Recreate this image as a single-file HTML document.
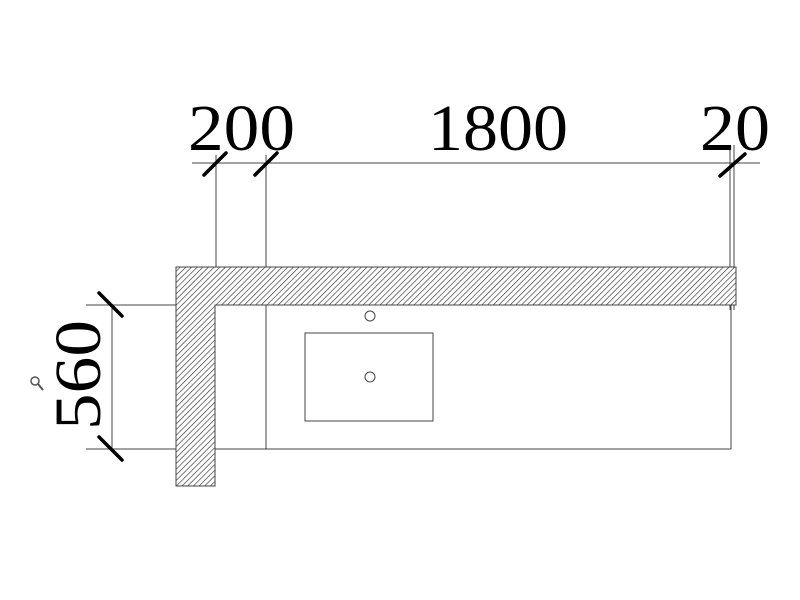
<!DOCTYPE html>
<html><head><style>body{margin:0;background:#fff}</style></head><body>
<svg width="800" height="600" xmlns="http://www.w3.org/2000/svg" style="display:block">
<defs>
<pattern id="h" width="4" height="4" patternUnits="userSpaceOnUse" patternTransform="rotate(45)">
<rect width="4" height="4" fill="#fff"/><line x1="0" y1="0" x2="0" y2="4" stroke="#333" stroke-width="1.3"/>
</pattern>
</defs>
<g stroke="#444" stroke-width="1" fill="none">
<line x1="192" y1="163" x2="760" y2="163"/>
<line x1="216" y1="155" x2="216" y2="267"/>
<line x1="266" y1="155" x2="266" y2="449"/>
<line x1="730" y1="145" x2="730" y2="310"/>
<line x1="734" y1="145" x2="734" y2="310"/>
<line x1="86" y1="305" x2="215" y2="305"/>
<line x1="86" y1="449" x2="731" y2="449"/>
<line x1="731" y1="305" x2="731" y2="449"/>
<line x1="112" y1="305" x2="112" y2="449"/>
<rect x="305" y="333" width="128" height="88"/>
<circle cx="370" cy="316" r="5"/>
<circle cx="370" cy="377" r="5"/>
</g>
<path d="M176 267H736V305H215V486H176Z" fill="url(#h)" stroke="#444" stroke-width="1"/>
<g stroke="#000" stroke-width="3.5" stroke-linecap="round">
<line x1="204" y1="175" x2="226" y2="153"/>
<line x1="255" y1="175" x2="277" y2="153"/>
<line x1="720" y1="176" x2="745" y2="154"/>
<line x1="99" y1="293" x2="122" y2="316"/>
<line x1="99" y1="437" x2="122" y2="460"/>
</g>
<g font-family="Liberation Serif, serif" font-size="66" fill="#000">
<text x="188" y="150" textLength="107" lengthAdjust="spacingAndGlyphs">200</text>
<text x="428" y="150" textLength="140" lengthAdjust="spacingAndGlyphs">1800</text>
<text x="700" y="150" textLength="70" lengthAdjust="spacingAndGlyphs">20</text>
<text transform="translate(100,430) rotate(-90)" textLength="110" lengthAdjust="spacingAndGlyphs">560</text>
</g>
<circle cx="35" cy="381" r="4" fill="none" stroke="#555" stroke-width="1.5"/>
<line x1="38" y1="384" x2="43" y2="390" stroke="#555" stroke-width="2"/>
</svg>
</body></html>
